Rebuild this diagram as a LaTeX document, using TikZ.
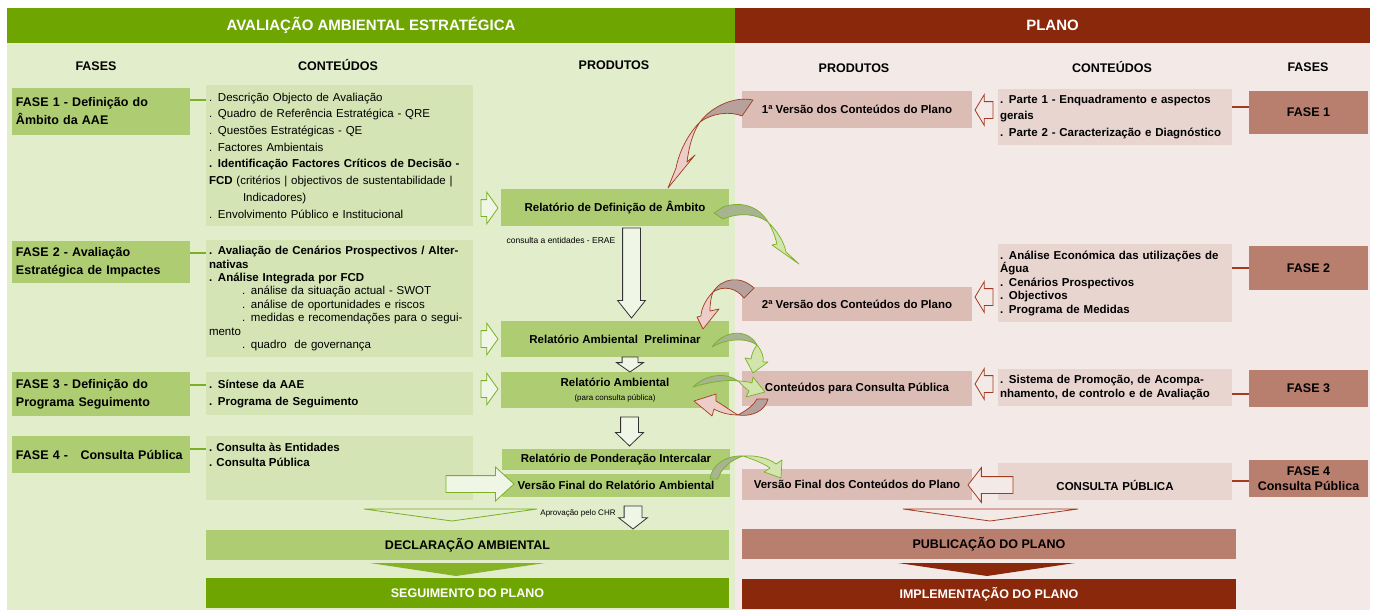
\documentclass[tikz,border=0pt]{standalone}
\usepackage{fontspec}
\setmainfont{Liberation Sans}
\usetikzlibrary{shapes.arrows}

\definecolor{aaegreen}{HTML}{6FA500}
\definecolor{aaebg}{HTML}{E2EDCB}
\definecolor{aaebox}{HTML}{AECD73}
\definecolor{aaecont}{HTML}{D4E4B4}
\definecolor{aaeline}{HTML}{79B024}
\definecolor{planred}{HTML}{8A280C}
\definecolor{planbg}{HTML}{F3E9E7}
\definecolor{planbox}{HTML}{DCBDB5}
\definecolor{plancont}{HTML}{E8D5D0}
\definecolor{planfase}{HTML}{B87E6E}
\definecolor{planline}{HTML}{A23B1F}
\definecolor{gdark}{HTML}{A7B48F}
\definecolor{glight}{HTML}{D2E5AC}
\definecolor{rdark}{HTML}{B7A19C}
\definecolor{rlight}{HTML}{EDCDC8}

\newcommand{\setfs}[2]{\fontsize{#1}{#2}\selectfont}

\begin{document}
\begin{tikzpicture}[x=1pt, y=-1pt,
  every node/.style={inner sep=0pt, outer sep=0pt},
  hdr/.style={anchor=north west, minimum height=35pt, text=white, font=\bfseries\setfs{15}{17}},
  colhd/.style={font=\bfseries\setfs{12.5}{15}},
  fasel/.style={anchor=north west, fill=aaebox, text width=170pt, inner xsep=4pt, align=left, font=\bfseries\setfs{12.5}{18}},
  contl/.style={anchor=north west, fill=aaecont, text width=261pt, inner xsep=3pt, align=left, font=\setfs{11.5}{16.7}},
  prodl/.style={anchor=north west, fill=aaebox, minimum width=228pt, align=center, font=\bfseries\setfs{11.5}{13}},
  prodr/.style={anchor=north west, fill=planbox, minimum width=230pt, align=center, font=\bfseries\setfs{11.5}{13}},
  contr/.style={anchor=north west, fill=plancont, text width=230pt, inner xsep=2pt, align=left, font=\bfseries\setfs{11.5}{13.5}},
  faser/.style={anchor=north west, fill=planfase, minimum width=119pt, align=center, font=\bfseries\setfs{12.5}{15}},
  bigbar/.style={anchor=north west, minimum height=30pt, font=\bfseries\setfs{12.5}{14}},
  small/.style={font=\setfs{8.5}{10}},
  glink/.style={draw=aaeline, line width=1.5pt},
  rlink/.style={draw=planline, line width=1.5pt},
  garrow/.style={single arrow, anchor=tip, inner ysep=8pt, draw=aaeline, fill=aaebg!50!white, line width=0.8pt},
  rarrow/.style={single arrow, anchor=tip, inner ysep=8pt, draw=planline, fill=planbg, line width=0.8pt, rotate=180},
  karrow/.style={single arrow, anchor=tip, inner ysep=8.5pt, draw=black!80, fill=aaebg!50!white, line width=0.8pt, rotate=-90},
  gcurve/.style={draw=aaeline, line width=0.7pt, line join=round},
  rcurve/.style={draw=planline, line width=0.7pt, line join=round}
]
\useasboundingbox (0,0) rectangle (1377,613);
\fill[white] (0,0) rectangle (1377,613);
\fill[aaebg] (7,43) rectangle (735,610);
\fill[planbg] (735,43) rectangle (1370,610);

\node[hdr, fill=aaegreen, minimum width=728pt] (aae) at (7,8) {AVALIAÇÃO AMBIENTAL ESTRATÉGICA};
\node[hdr, fill=planred, minimum width=635pt] (plano) at (735,8) {PLANO};

\node[colhd] (hfases)  at (96,66)   {FASES};
\node[colhd] (hcont)   at (338,65)  {CONTEÚDOS};
\node[colhd] (hprod)   at (614,65)  {PRODUTOS};
\node[colhd] (hprodr)  at (854,68)  {PRODUTOS};
\node[colhd] (hcontr)  at (1112,67) {CONTEÚDOS};
\node[colhd] (hfasesr) at (1308,67) {FASES};

% AAE: fases and conteudos
\node[fasel, minimum height=47pt] (f1) at (12,88)  {FASE 1 - Definição do\\Âmbito da AAE};
\node[fasel, minimum height=42pt] (f2) at (12,241) {FASE 2 - Avaliação\\Estratégica de Impactes};
\node[fasel, minimum height=44pt] (f3) at (12,372) {FASE 3 - Definição do\\Programa Seguimento};
\node[fasel, minimum height=37pt] (f4) at (12,436) {FASE 4 -\ \ \ Consulta Pública};

\node[contl, minimum height=141pt] (c1) at (206,85) {. Descrição Objecto de Avaliação\\
  . Quadro de Referência Estratégica - QRE\\
  . Questões Estratégicas - QE\\
  . Factores Ambientais\\
  \textbf{. Identificação Factores Críticos de Decisão -}\\
  \textbf{FCD} (critérios | objectivos de sustentabilidade |\\
  \hspace*{34pt}Indicadores)\\
  . Envolvimento Público e Institucional};
\node[contl, minimum height=117pt, font=\setfs{11.5}{13.4}] (c2) at (206,240) {\textbf{. Avaliação de Cenários Prospectivos / Alter-}\\
  \textbf{nativas}\\
  \textbf{. Análise Integrada por FCD}\\
  \hspace*{33pt}. análise da situação actual - SWOT\\
  \hspace*{33pt}. análise de oportunidades e riscos\\
  \hspace*{33pt}. medidas e recomendações para o segui-\\
  mento\\
  \hspace*{33pt}. quadro\ \ de governança};
\node[contl, minimum height=43pt, font=\bfseries\setfs{11.5}{17}] (c3) at (206,372) {. Síntese da AAE\\. Programa de Seguimento};
\node[contl, minimum height=64pt] (c4) at (206,436) {};
\node[anchor=north west, align=left, font=\bfseries\setfs{11.5}{15}] (c4t) at (209,443) {. Consulta às Entidades\\. Consulta Pública};

\draw[glink] ([yshift=-12pt]f1.north east) -- ([yshift=-15pt]c1.north west);
\draw[glink] ([yshift=-12pt]f2.north east) -- ([yshift=-13pt]c2.north west);
\draw[glink] ([yshift=-13pt]f3.north east) -- ([yshift=-13pt]c3.north west);
\draw[glink] ([yshift=-13pt]f4.north east) -- ([yshift=-13pt]c4.north west);

% AAE: produtos
\node[prodl, minimum height=37pt] (rda)  at (501,189) {Relatório de Definição de Âmbito};
\node[prodl, minimum height=36pt] (rap)  at (501,321) {Relatório Ambiental\ \ Preliminar};
\node[prodl, minimum height=36pt] (ra)   at (501,372) {Relatório Ambiental\\[1pt]{\mdseries\setfs{8}{10}(para consulta pública)}};
\node[prodl, minimum height=21pt] (rpi)  at (502,449) {Relatório de Ponderação Intercalar};
\node[prodl, minimum height=23pt] (vfra) at (502,474) {Versão Final do Relatório Ambiental};

\node[small] (erae) at (561,240) {consulta a entidades - ERAE};
\node[small, font=\setfs{8}{10}] (chr) at (578,513) {Aprovação pelo CHR};

\node[garrow, minimum height=17pt, minimum width=31pt, single arrow head extend=7.5pt, single arrow tip angle=109] (ga1) at (498,208) {};
\node[garrow, minimum height=17pt, minimum width=31pt, single arrow head extend=7.5pt, single arrow tip angle=109] (ga2) at (498,339) {};
\node[garrow, minimum height=17pt, minimum width=31pt, single arrow head extend=7.5pt, single arrow tip angle=109] (ga3) at (498,389) {};
\node[garrow, minimum height=68pt, minimum width=33pt, single arrow head extend=8.5pt, single arrow tip angle=85] (ga4) at (514,484) {};

\node[karrow, minimum height=90pt, minimum width=27pt, single arrow head extend=5pt, single arrow tip angle=77] (ka1) at (631.5,318) {};
\node[karrow, inner ysep=7.5pt, minimum height=15pt, minimum width=26pt, single arrow head extend=5.5pt, single arrow tip angle=110] (ka2) at (630,372) {};
\node[karrow, minimum height=29pt, minimum width=27pt, single arrow head extend=5pt, single arrow tip angle=92] (ka3) at (629.5,446) {};
\node[karrow, minimum height=23pt, minimum width=28pt, single arrow head extend=5.5pt, single arrow tip angle=104] (ka4) at (633,529) {};

% Plano: produtos, conteudos and fases
\node[prodr, minimum height=37pt] (rp1) at (742,91)  {1ª Versão dos Conteúdos do Plano};
\node[prodr, minimum height=34pt] (rp2) at (742,287) {2ª Versão dos Conteúdos do Plano};
\node[prodr, minimum height=35pt] (rp3) at (742,371) {Conteúdos para Consulta Pública};
\node[prodr, minimum height=31pt] (rp4) at (742,469) {Versão Final dos Conteúdos do Plano};

\node[contr, minimum height=56pt, font=\bfseries\setfs{11.5}{16.5}] (rc1) at (998,89) {. Parte 1 - Enquadramento e aspectos\\gerais\\. Parte 2 - Caracterização e Diagnóstico};
\node[contr, minimum height=78pt] (rc2) at (998,244) {. Análise Económica das utilizações de\\Água\\. Cenários Prospectivos\\. Objectivos\\. Programa de Medidas};
\node[contr, minimum height=37pt, font=\bfseries\setfs{11.5}{14}] (rc3) at (998,369) {. Sistema de Promoção, de Acompa-\\nhamento, de controlo e de Avaliação};
\node[contr, minimum height=37pt, align=center] (rc4) at (998,463) {\raisebox{-8.5pt}[0pt][0pt]{CONSULTA PÚBLICA}};

\node[faser, minimum height=43pt] (rf1) at (1249,91)  {FASE 1};
\node[faser, minimum height=44pt] (rf2) at (1249,246) {FASE 2};
\node[faser, minimum height=37pt] (rf3) at (1249,370) {FASE 3};
\node[faser, minimum height=37pt] (rf4) at (1249,460) {FASE 4\\Consulta Pública};

\draw[rlink] ([yshift=-18pt]rc1.north east) -- ([yshift=-16pt]rf1.north west);
\draw[rlink] ([yshift=-24pt]rc2.north east) -- ([yshift=-22pt]rf2.north west);
\draw[rlink] ([yshift=-25pt]rc3.north east) -- ([yshift=-24pt]rf3.north west);
\draw[rlink] ([yshift=-18pt]rc4.north east) -- ([yshift=-21pt]rf4.north west);

\node[rarrow, minimum height=18pt, minimum width=30pt, single arrow head extend=7pt, single arrow tip angle=118] (ra1) at (975,110) {};
\node[rarrow, minimum height=18pt, minimum width=30pt, single arrow head extend=7pt, single arrow tip angle=118] (ra2) at (975,297) {};
\node[rarrow, minimum height=18pt, minimum width=30pt, single arrow head extend=7pt, single arrow tip angle=118] (ra3) at (975,384) {};
\node[rarrow, minimum height=45pt, minimum width=34pt, single arrow head extend=9pt, single arrow tip angle=105] (ra4) at (968,485) {};

% closing bars
\draw[aaeline, line width=0.8pt] (364,509) -- (537,509) -- (452,521) -- cycle;
\draw[planline, line width=0.8pt] (903,509) -- (1078,509) -- (990,521) -- cycle;
\node[bigbar, fill=aaebox, minimum width=523pt] (decl) at (206,530) {DECLARAÇÃO AMBIENTAL};
\node[bigbar, fill=planfase, minimum width=494pt] (publ) at (742,529) {PUBLICAÇÃO DO PLANO};
\fill[aaegreen!85!white] (370,563) -- (545,563) -- (456,576) -- cycle;
\fill[planred] (898,563) -- (1075,563) -- (987,576) -- cycle;
\node[bigbar, fill=aaegreen, text=white, minimum width=523pt] (segui) at (206,578) {SEGUIMENTO DO PLANO};
\node[bigbar, fill=planred, text=white, minimum width=494pt] (impl) at (742,579) {IMPLEMENTAÇÃO DO PLANO};

% curved arrows between the two columns
\filldraw[rcurve, fill=rdark] (753,100) .. controls (735,96) and (712,106) .. (700,122) .. controls (712,113) and (730,111) .. (742,116) -- cycle;
\filldraw[rcurve, fill=rlight] (700,122) .. controls (688,134) and (679,152) .. (676,168) -- (668,188) -- (695,155) -- (687,162) .. controls (689,146) and (693,132) .. (700,122) -- cycle;

\filldraw[gcurve, fill=gdark] (714,213) -- (723,207) .. controls (743,200) and (760,208) .. (768,222) .. controls (757,214) and (740,212) .. (723,219) -- cycle;
\filldraw[gcurve, fill=glight] (768,222) .. controls (778,232) and (784,242) .. (786,252) -- (799,264) -- (772,245) -- (777,244) .. controls (775,236) and (772,228) .. (768,222) -- cycle;

\filldraw[rcurve, fill=rdark] (754,288) .. controls (740,275) and (722,278) .. (713,292) .. controls (724,285) and (736,288) .. (744,298) -- cycle;
\filldraw[rcurve, fill=rlight] (713,292) .. controls (705,300) and (701,310) .. (701,316) -- (697,317) -- (703,329) -- (719,309) -- (710,311) .. controls (710,303) and (711,297) .. (713,292) -- cycle;

\filldraw[gcurve, fill=gdark] (712,347) .. controls (724,330) and (748,328) .. (757,345) .. controls (746,337) and (725,339) .. (712,347) -- cycle;
\filldraw[gcurve, fill=glight] (757,345) .. controls (762,351) and (764,357) .. (763,362) -- (768,362) -- (753,373) -- (745,358) -- (751,359) .. controls (752,353) and (754,349) .. (757,345) -- cycle;

\filldraw[gcurve, fill=gdark] (693,387) .. controls (706,374) and (726,372) .. (738,381) .. controls (726,379) and (706,383) .. (693,387) -- cycle;
\filldraw[gcurve, fill=glight] (738,381) .. controls (744,381) and (749,382) .. (752,383) -- (753,377) -- (765,392) -- (746,397) -- (749,391) .. controls (745,388) and (741,384) .. (738,381) -- cycle;

\filldraw[rcurve, fill=rdark] (768,399) .. controls (765,411) and (752,417) .. (738,415) .. controls (747,410) and (754,405) .. (757,399) -- cycle;
\filldraw[rcurve, fill=rlight] (738,415) .. controls (728,415) and (719,412) .. (714,409) -- (712,416) -- (694,401) -- (716,394) -- (716,401) .. controls (723,405) and (731,411) .. (738,415) -- cycle;

\filldraw[gcurve, fill=gdark] (710,479) .. controls (711,466) and (725,455) .. (743,456) .. controls (731,460) and (721,468) .. (718,479) -- cycle;
\filldraw[gcurve, fill=glight] (743,456) .. controls (758,455) and (770,459) .. (776,464) -- (782,460) -- (781,478) -- (764,472) -- (770,468) .. controls (763,463) and (752,459) .. (743,456) -- cycle;
\end{tikzpicture}
\end{document}
